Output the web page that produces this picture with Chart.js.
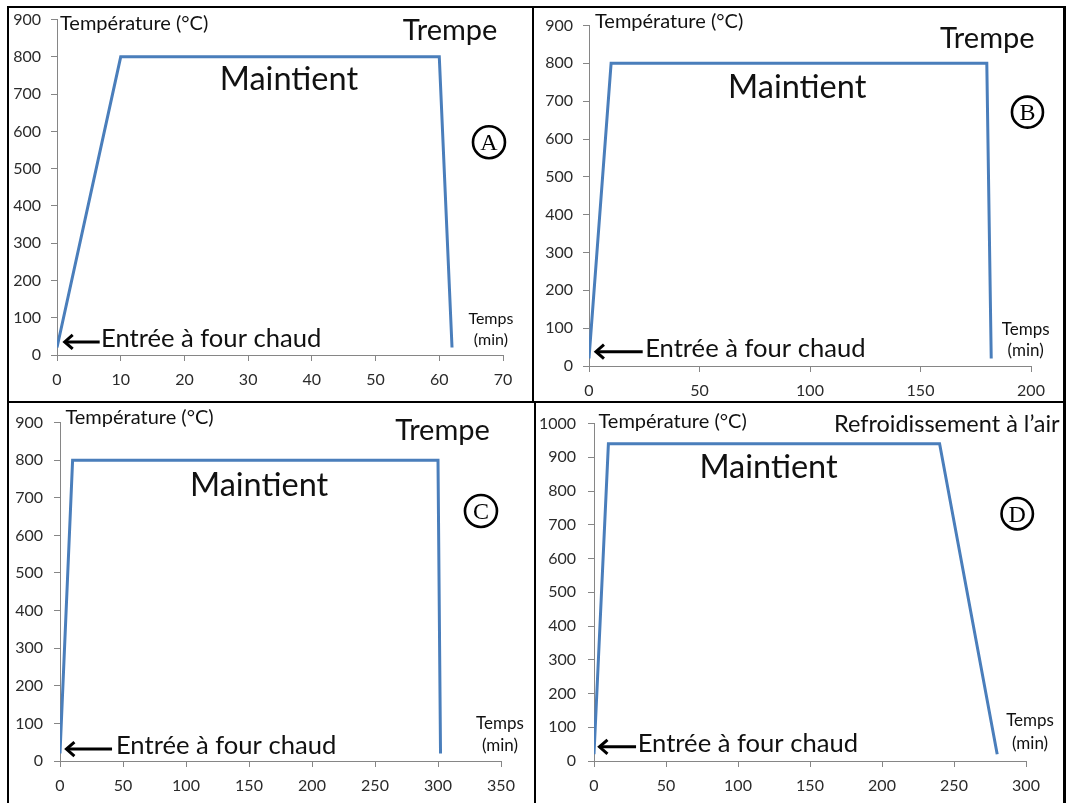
<!DOCTYPE html>
<html>
<head>
<meta charset="utf-8">
<script src="https://cdn.jsdelivr.net/npm/chart.js@4.4.1/dist/chart.umd.min.js"></script>
<style>
  html, body { margin: 0; padding: 0; background: #fff; }
  #page { position: relative; width: 1066px; height: 803px; overflow: hidden; background: #fff; }
  canvas { position: absolute; }
  .rule { position: absolute; background: #000; z-index: 2; }
</style>
</head>
<body>
<div id="page">
  <canvas id="cA" width="533" height="402" style="left:0;top:0"></canvas>
  <canvas id="cB" width="531" height="402" style="left:535px;top:0"></canvas>
  <canvas id="cC" width="534" height="401" style="left:0;top:402px"></canvas>
  <canvas id="cD" width="531" height="401" style="left:535px;top:402px"></canvas>

  <!-- frame of the 2x2 board -->
  <div class="rule" style="left:7px;top:6px;width:1059px;height:2px"></div>
  <div class="rule" style="left:7px;top:6px;width:2px;height:797px"></div>
  <div class="rule" style="left:1063px;top:6px;width:3px;height:797px"></div>
  <div class="rule" style="left:532px;top:6px;width:2px;height:396px"></div>
  <div class="rule" style="left:534px;top:401px;width:2px;height:402px"></div>
  <div class="rule" style="left:7px;top:401px;width:1059px;height:2px"></div>
</div>

<script>
// Heat-treatment cycles: time (min) and furnace temperature (°C)
const timeA = [0, 10, 60, 62];
const tempA = [20, 800, 800, 20];

const timeB = [0, 10, 180, 182];
const tempB = [20, 800, 800, 20];

const timeC = [0, 10, 300, 302];
const tempC = [20, 800, 800, 20];

const timeD = [0, 10, 240, 280];
const tempD = [20, 940, 940, 20];

// Axis ranges and tick steps
const xMax = { A: 70, B: 200, C: 350, D: 300 };
const xStep = { A: 10, B: 50, C: 50, D: 50 };
const yMax = { A: 900, B: 900, C: 900, D: 1000 };
const yStep = 100;

// Texts
const yTitle = 'Température (°C)';
const xTitle = ['Temps', '(min)'];
const holdText = 'Maintient';
const entryText = 'Entrée à four chaud';
const quenchText = 'Trempe';
const airText = 'Refroidissement à l\u2019air';

const FONT = 'Lato, "Open Sans", sans-serif';
const LINE = '#4a7ebb';
const AXIS = '#868686';
const INK = '#111';
const TICK = '#2b2b2b';

Chart.defaults.font.family = FONT;
Chart.defaults.color = TICK;

// Draws the free texts, the entry arrow and the circled letter in data coordinates
const notesPlugin = {
  id: 'notes',
  afterDraw(chart, args, opts) {
    const { ctx } = chart;
    const xs = chart.scales.x, ys = chart.scales.y;
    ctx.save();
    for (const n of opts.items || []) {
      const px = xs.getPixelForValue(n.x);
      const py = ys.getPixelForValue(n.y);
      if (n.kind === 'text') {
        ctx.font = `${n.size}px ${FONT}`;
        ctx.fillStyle = INK;
        ctx.textAlign = n.align || 'center';
        ctx.textBaseline = 'alphabetic';
        ctx.fillText(n.text, px, py);
      } else if (n.kind === 'arrow') {
        const tx = xs.getPixelForValue(n.x2);
        ctx.strokeStyle = '#000';
        ctx.lineWidth = 3;
        ctx.lineCap = 'butt';
        ctx.beginPath();
        ctx.moveTo(px + 2, py);
        ctx.lineTo(tx, py);
        ctx.stroke();
        ctx.lineJoin = 'miter';
        ctx.beginPath();
        ctx.moveTo(px + 9, py - 7);
        ctx.lineTo(px + 1, py);
        ctx.lineTo(px + 9, py + 7);
        ctx.stroke();
      } else if (n.kind === 'badge') {
        ctx.strokeStyle = '#000';
        ctx.lineWidth = 2.6;
        ctx.beginPath();
        ctx.arc(px, py, n.r, 0, Math.PI * 2);
        ctx.stroke();
        ctx.font = `${n.size}px "Liberation Serif", "DejaVu Serif", serif`;
        ctx.fillStyle = '#000';
        ctx.textAlign = 'center';
        ctx.textBaseline = 'alphabetic';
        ctx.fillText(n.text, px, py + n.size * 0.33);
      }
    }
    ctx.restore();
  }
};

function makeChart(id, times, temps, key, geom, notes) {
  const points = times.map((t, i) => ({ x: t, y: temps[i] }));
  return new Chart(document.getElementById(id), {
    type: 'scatter',
    data: {
      datasets: [{
        data: points,
        showLine: true,
        borderColor: LINE,
        borderWidth: 3,
        pointRadius: 0,
        pointHoverRadius: 0,
        borderJoinStyle: 'miter',
        tension: 0
      }]
    },
    options: {
      responsive: false,
      animation: false,
      events: [],
      layout: { padding: { top: geom.top, right: geom.right, left: 0, bottom: 0 } },
      plugins: {
        legend: { display: false },
        tooltip: { enabled: false },
        notes: { items: notes }
      },
      scales: {
        x: {
          type: 'linear',
          min: 0,
          max: xMax[key],
          afterFit: s => { s.height = geom.xh; },
          border: { color: AXIS, width: 1 },
          grid: { drawOnChartArea: false, drawTicks: true, tickLength: 6, color: AXIS },
          ticks: { stepSize: xStep[key], autoSkip: false, maxRotation: 0, padding: 9,
                   font: { size: 16 }, color: TICK, callback: v => String(v) }
        },
        y: {
          type: 'linear',
          min: 0,
          max: yMax[key],
          afterFit: s => { s.width = geom.yw; },
          border: { color: AXIS, width: 1 },
          grid: { drawOnChartArea: false, drawTicks: true, tickLength: 6, color: AXIS },
          ticks: { stepSize: yStep, autoSkip: false, padding: geom.yp,
                   font: { size: 16 }, color: TICK, callback: v => String(v) }
        }
      }
    },
    plugins: [notesPlugin]
  });
}

makeChart('cA', timeA, tempA, 'A', { top: 16, right: 30, xh: 47, yw: 57, yp: 10 }, [
  { kind: 'text', text: yTitle, x: 0.47, y: 872, size: 20, align: 'left' },
  { kind: 'text', text: quenchText, x: 61.7, y: 845, size: 29 },
  { kind: 'text', text: holdText, x: 36.4, y: 712, size: 32.5 },
  { kind: 'badge', text: 'A', x: 67.8, y: 571, r: 16, size: 24 },
  { kind: 'text', text: entryText, x: 6.9, y: 22, size: 25.6, align: 'left' },
  { kind: 'arrow', x: 1.05, x2: 6.7, y: 35 },
  { kind: 'text', text: xTitle[0], x: 68.1, y: 84, size: 16 },
  { kind: 'text', text: xTitle[1], x: 68.1, y: 26.5, size: 16 }
]);

makeChart('cB', timeB, tempB, 'B', { top: 25.5, right: 35, xh: 36, yw: 54, yp: 10 }, [
  { kind: 'text', text: yTitle, x: 2.7, y: 894, size: 20, align: 'left' },
  { kind: 'text', text: quenchText, x: 180.2, y: 840, size: 29 },
  { kind: 'text', text: holdText, x: 94.2, y: 709, size: 32.5 },
  { kind: 'badge', text: 'B', x: 198.4, y: 671, r: 15.5, size: 24 },
  { kind: 'text', text: entryText, x: 25.4, y: 23, size: 25.6, align: 'left' },
  { kind: 'arrow', x: 2.7, x2: 24.3, y: 37.8 },
  { kind: 'text', text: xTitle[0], x: 197.6, y: 82, size: 17 },
  { kind: 'text', text: xTitle[1], x: 197.6, y: 26, size: 17 }
]);

makeChart('cC', timeC, tempC, 'C', { top: 18.5, right: 33, xh: 42, yw: 60, yp: 11 }, [
  { kind: 'text', text: yTitle, x: 4.3, y: 897, size: 20, align: 'left' },
  { kind: 'text', text: quenchText, x: 303.6, y: 855, size: 29 },
  { kind: 'text', text: holdText, x: 158, y: 705, size: 32.5 },
  { kind: 'badge', text: 'C', x: 334.1, y: 665, r: 16, size: 24 },
  { kind: 'text', text: entryText, x: 44.4, y: 17.7, size: 25.6, align: 'left' },
  { kind: 'arrow', x: 4.3, x2: 41.3, y: 31.7 },
  { kind: 'text', text: xTitle[0], x: 349.2, y: 86.4, size: 17 },
  { kind: 'text', text: xTitle[1], x: 349.2, y: 26.4, size: 17 }
]);

makeChart('cD', timeD, tempD, 'D', { top: 19, right: 40, xh: 42, yw: 59, yp: 12 }, [
  { kind: 'text', text: yTitle, x: 3.1, y: 988, size: 20, align: 'left' },
  { kind: 'text', text: airText, x: 245, y: 975.6, size: 23.5 },
  { kind: 'text', text: holdText, x: 121.2, y: 838, size: 32.5 },
  { kind: 'badge', text: 'D', x: 293.9, y: 733, r: 15.7, size: 24 },
  { kind: 'text', text: entryText, x: 30.3, y: 27.4, size: 25.6, align: 'left' },
  { kind: 'arrow', x: 3.1, x2: 29.2, y: 42 },
  { kind: 'text', text: xTitle[0], x: 302.8, y: 103, size: 17 },
  { kind: 'text', text: xTitle[1], x: 302.8, y: 35, size: 17 }
]);
</script>
</body>
</html>
